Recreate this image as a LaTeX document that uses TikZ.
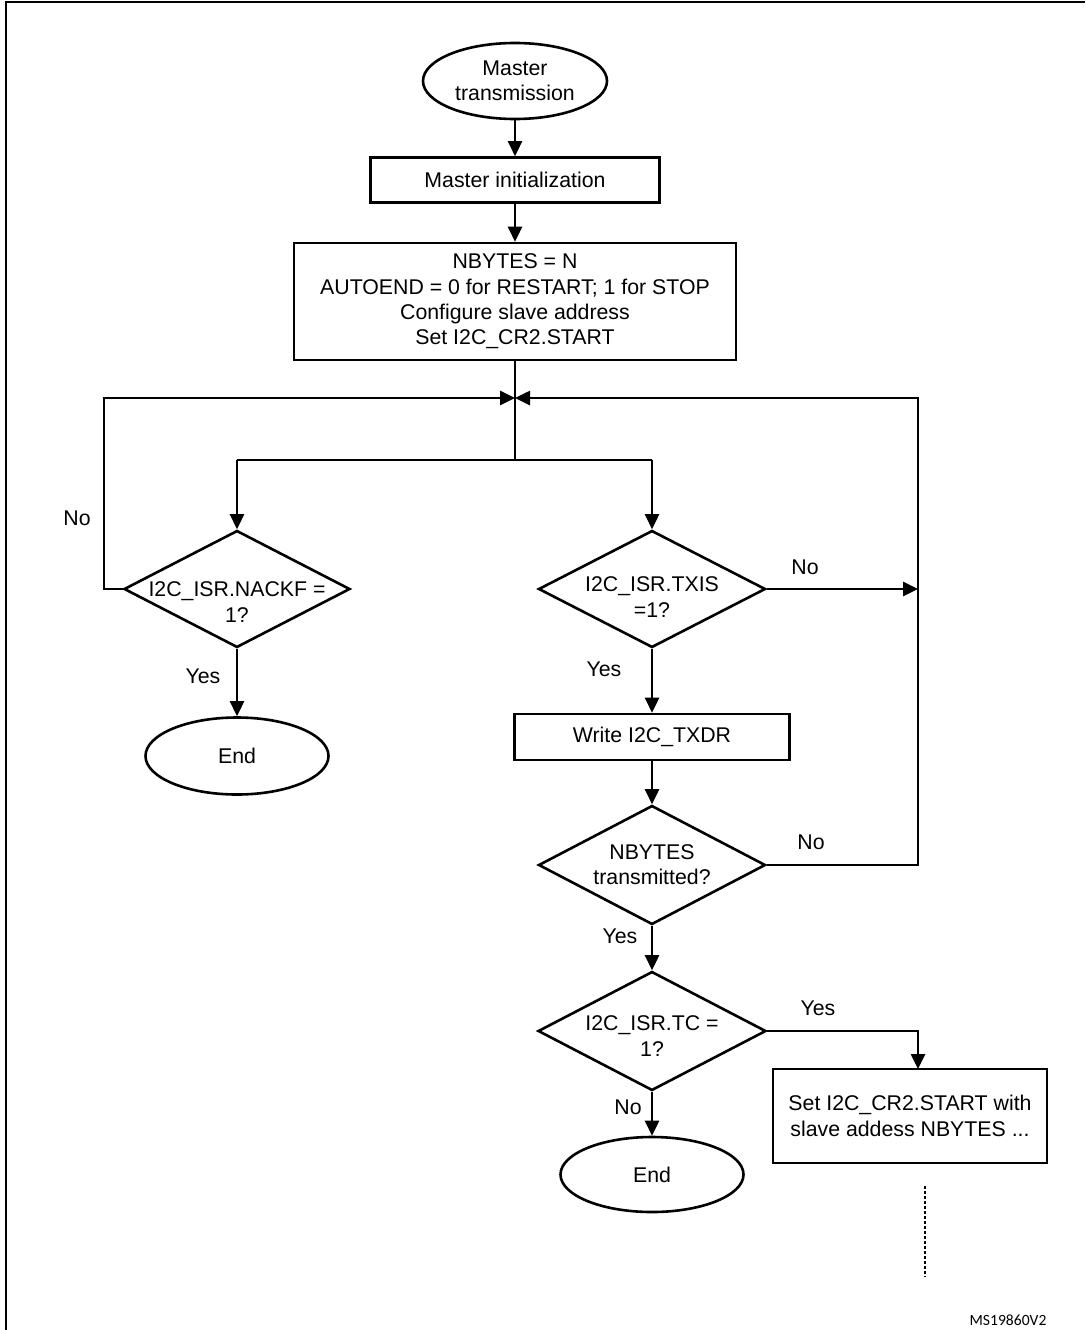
\documentclass[tikz,border=0pt]{standalone}
\usepackage{fontspec}
\setmainfont{Liberation Sans}
\newfontfamily\msfont{Carlito}
\usetikzlibrary{shapes.geometric,arrows.meta}
\begin{document}
\begin{tikzpicture}[x=1pt,y=-1pt, line width=2.6pt,
  txt/.style={font=\fontsize{21.3}{25.3}\selectfont, align=center, inner sep=0pt},
  term/.style={draw, ellipse, inner sep=0pt, txt},
  proc/.style={draw, rectangle, inner sep=0pt, txt},
  dia/.style={draw, diamond, inner sep=0pt},
  arr/.style={-{Triangle[length=15pt,width=14pt]}},
  dots/.style={dash pattern=on 3pt off 2pt},
]
\useasboundingbox (0,0) rectangle (1085,1330);
% frame
\coordinate (F1) at (6,1330);
\coordinate (F2) at (6,2);
\coordinate (F3) at (1085,2);
\draw (F1) -- (F2) -- (F3);

% nodes
\node[term, minimum width=184pt, minimum height=76pt] (start) at (515,81) {Master\\transmission};
\node[proc, minimum width=289pt, minimum height=45pt] (init) at (515,180) {Master initialization};
\node[proc, minimum width=442pt, minimum height=117pt] (cfg) at (515,301.5) {NBYTES = N\\AUTOEND = 0 for RESTART; 1 for STOP\\Configure slave address\\Set I2C\_CR2.START};

\node[dia, minimum width=226pt, minimum height=117pt] (nack) at (237,589) {};
\node[txt] (nackt) at (237,602) {I2C\_ISR.NACKF =\\1?};
\node[term, minimum width=183pt, minimum height=77pt] (e1) at (237,756) {End};

\node[dia, minimum width=227pt, minimum height=117pt] (txis) at (652,589) {};
\node[txt] (txist) at (652,597) {I2C\_ISR.TXIS\\=1?};
\node[proc, minimum width=275pt, minimum height=46pt] (write) at (652,737) {Write I2C\_TXDR};

\node[dia, minimum width=227pt, minimum height=119pt] (nby) at (652,865) {};
\node[txt] (nbyt) at (652,865) {NBYTES\\transmitted?};

\node[dia, minimum width=228pt, minimum height=119pt] (tc) at (652,1031) {};
\node[txt] (tct) at (652,1036) {I2C\_ISR.TC =\\1?};
\node[term, minimum width=183pt, minimum height=75pt] (e2) at (652,1174.5) {End};

\node[proc, minimum width=274pt, minimum height=94pt] (restart) at (910,1116) {Set I2C\_CR2.START with\\slave addess NBYTES ...};

% labels
\node[txt] (l1) at (77,518) {No};
\node[txt] (l2) at (203,676) {Yes};
\node[txt] (l3) at (805,567) {No};
\node[txt] (l4) at (604,669) {Yes};
\node[txt] (l5) at (811,842) {No};
\node[txt] (l6) at (620,936) {Yes};
\node[txt] (l7) at (818,1008) {Yes};
\node[txt] (l8) at (628,1107) {No};
\node[font=\msfont\fontsize{15.6}{18}\selectfont, inner sep=0pt] (ms) at (1008,1320) {MS19860V2};

% coordinates
\coordinate (J) at (515,398);
\coordinate (S) at (515,460);
\coordinate (SL) at (237,460);
\coordinate (SR) at (652,460);
\coordinate (LL) at (104,398);
\coordinate (RT) at (918,398);
\coordinate (RB) at (918,1069);
\coordinate (dotA) at (925,1186);
\coordinate (dotB) at (925,1277);

% connectors
\draw[arr] (start) -- (init);
\draw[arr] (init) -- (cfg);
\draw (cfg.south) -- (S);
\draw (SL) -- (SR);
\draw[arr] (SL) -- (nack.north);
\draw[arr] (SR) -- (txis.north);
\draw[arr] (nack.west) -| (LL) -- (J);
\draw[arr] (nby.east) -| (RT) -- (J);
\draw[arr] (txis.east) -- (txis.east -| RT);
\draw[arr] (nack.south) -- (e1.north);
\draw[arr] (txis.south) -- (write.north);
\draw[arr] (write.south) -- (nby.north);
\draw[arr] (nby.south) -- (tc.north);
\draw[arr] (tc.east) -| (RB);
\draw[arr] (tc.south) -- (e2.north);
\draw[dots] (dotA) -- (dotB);
\end{tikzpicture}
\end{document}
